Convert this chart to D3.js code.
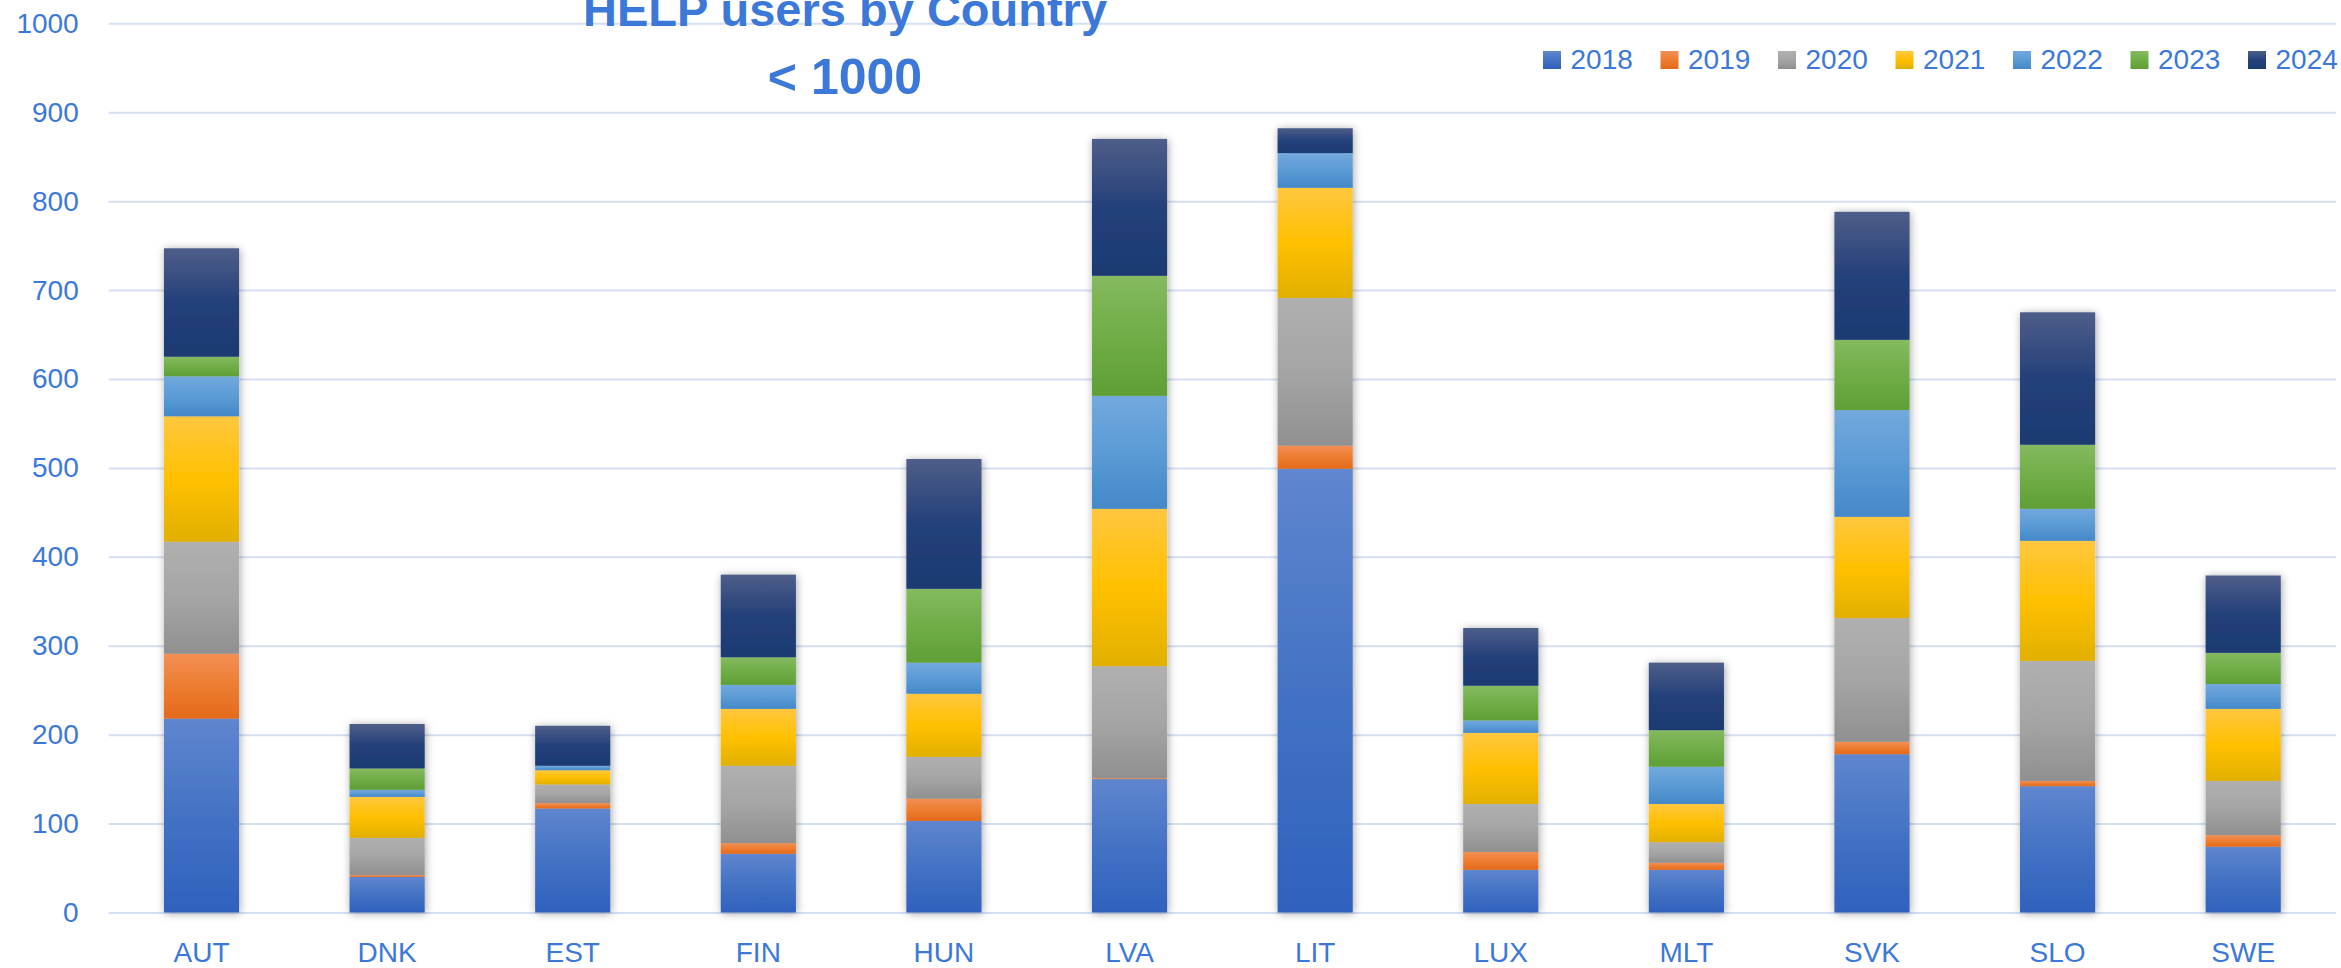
<!DOCTYPE html>
<html>
<head>
<meta charset="utf-8">
<script src="https://cdn.jsdelivr.net/npm/d3@7"></script>
<style>
    body { margin: 0; background: #ffffff; }
    text { font-family: "Liberation Sans", Arial, sans-serif; fill: #3c78d8; }
</style>
</head>
<body>
<div id="chart"></div>
<script>
// Categories and series (HELP users per year, stacked)
const countries = ["AUT", "DNK", "EST", "FIN", "HUN", "LVA", "LIT", "LUX", "MLT", "SVK", "SLO", "SWE"];
const years = ["2018", "2019", "2020", "2021", "2022", "2023", "2024"];

const users2018 = [218, 40, 117, 66, 103, 150, 499, 48, 48, 178, 142, 74];
const users2019 = [73, 2, 6, 12, 25, 1, 26, 20, 8, 14, 6, 13];
const users2020 = [126, 42, 21, 87, 47, 126, 166, 54, 23, 139, 135, 61];
const users2021 = [141, 46, 16, 64, 71, 177, 124, 80, 43, 114, 135, 81];
const users2022 = [45, 8, 5, 27, 35, 127, 39, 14, 42, 120, 36, 28];
const users2023 = [22, 24, 0, 31, 83, 135, 0, 39, 41, 79, 72, 35];
const users2024 = [122, 50, 45, 93, 146, 154, 28, 65, 76, 144, 149, 87];

const yTicks = [0, 100, 200, 300, 400, 500, 600, 700, 800, 900, 1000];

// Gradient stops per year: top, middle, bottom
const yearColors = [
    ["#5f86cf", "#4472c4", "#2f61bd"],
    ["#f28f53", "#ed7d31", "#e4691a"],
    ["#b0b0b0", "#a5a5a5", "#909090"],
    ["#ffc73f", "#ffc000", "#e2b000"],
    ["#72a9dd", "#5b9bd5", "#4488c9"],
    ["#85ba60", "#70ad47", "#5f9f35"],
    ["#4e5e89", "#24407a", "#1b3a72"]
];

const allSeries = [users2018, users2019, users2020, users2021, users2022, users2023, users2024];

// Build one row per country for d3.stack
let rows = countries.map((c, i) => {
    let row = { country: c };
    years.forEach((yr, j) => { row[yr] = allSeries[j][i]; });
    return row;
});

const W = 2341, H = 968;
const plotLeft = 108.7, plotRight = 2336;

let svg = d3.select("#chart")
    .append("svg")
    .attr("width", W)
    .attr("height", H);

let defs = svg.append("defs");

// Vertical gradient for each year
yearColors.forEach((cols, j) => {
    let g = defs.append("linearGradient")
        .attr("id", "grad" + j)
        .attr("x1", 0).attr("y1", 0)
        .attr("x2", 0).attr("y2", 1);
    g.append("stop").attr("offset", "0%").attr("stop-color", cols[0]);
    g.append("stop").attr("offset", "50%").attr("stop-color", cols[1]);
    g.append("stop").attr("offset", "100%").attr("stop-color", cols[2]);
});

// Soft shadow around bars
let shadow = defs.append("filter")
    .attr("id", "shadow")
    .attr("x", "-30%").attr("y", "-10%")
    .attr("width", "160%").attr("height", "120%");
shadow.append("feDropShadow")
    .attr("dx", 1).attr("dy", 1)
    .attr("stdDeviation", 4)
    .attr("flood-color", "#000")
    .attr("flood-opacity", 0.35);

// Scales
let x = d3.scaleBand()
    .domain(countries)
    .range([plotLeft, plotRight])
    .paddingInner(0.595)
    .paddingOuter(0.2975);

let y = d3.scaleLinear()
    .domain([0, 1000])
    .range([912.5, 23.3]);

// Y axis with gridlines
let yAxis = svg.append("g")
    .attr("transform", `translate(${plotLeft}, 0)`)
    .call(d3.axisLeft(y)
        .tickValues(yTicks)
        .tickFormat(d3.format("d"))
        .tickSize(-(plotRight - plotLeft))
        .tickPadding(30));

yAxis.select(".domain").remove();
yAxis.selectAll("line")
    .attr("stroke", "#d5dff3")
    .attr("stroke-width", 2);
yAxis.selectAll("text")
    .style("font-size", "28px")
    .style("font-family", "Liberation Sans, Arial, sans-serif")
    .attr("fill", "#3c78d8");

// Stacked bars
let stacked = d3.stack().keys(years)(rows);

let barGroups = svg.append("g")
    .selectAll("g")
    .data(countries)
    .enter().append("g")
    .attr("filter", "url(#shadow)");

barGroups.each(function (c, i) {
    d3.select(this).selectAll("rect")
        .data(stacked.map((s, j) => ({ j: j, y0: s[i][0], y1: s[i][1] })).filter(d => d.y1 > d.y0))
        .enter().append("rect")
        .attr("x", x(c))
        .attr("width", x.bandwidth())
        .attr("y", d => y(d.y1))
        .attr("height", d => y(d.y0) - y(d.y1))
        .attr("fill", d => `url(#grad${d.j})`);
});

// X labels
svg.append("g")
    .selectAll("text")
    .data(countries)
    .enter().append("text")
    .attr("x", d => x(d) + x.bandwidth() / 2)
    .attr("y", 962)
    .attr("text-anchor", "middle")
    .style("font-size", "28px")
    .text(d => d);

// Title (first line sits partly above the top edge, as in the original)
svg.append("text")
    .attr("x", 845)
    .attr("y", 26)
    .attr("text-anchor", "middle")
    .style("font-size", "47px")
    .style("font-weight", "bold")
    .text("HELP users by Country");

svg.append("text")
    .attr("x", 845)
    .attr("y", 94)
    .attr("text-anchor", "middle")
    .style("font-size", "50px")
    .style("font-weight", "bold")
    .text("< 1000");

// Legend
let legend = svg.append("g")
    .selectAll("g")
    .data(years)
    .enter().append("g")
    .attr("transform", (d, j) => `translate(${1543 + j * 117.5}, 0)`);

legend.append("rect")
    .attr("x", 0)
    .attr("y", 51)
    .attr("width", 18)
    .attr("height", 18)
    .attr("fill", (d, j) => `url(#grad${j})`);

legend.append("text")
    .attr("x", 27.5)
    .attr("y", 69)
    .style("font-size", "28px")
    .text(d => d);
</script>
</body>
</html>
